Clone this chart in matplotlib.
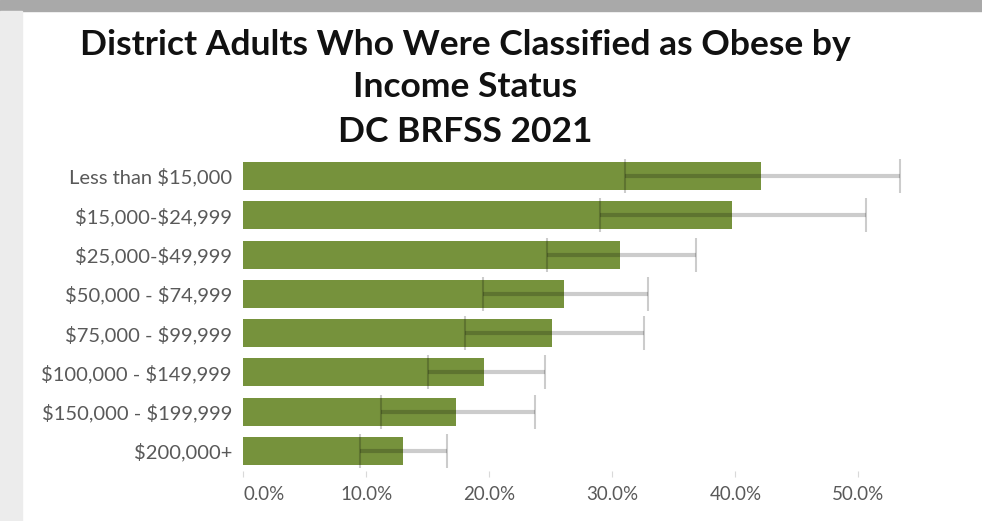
import matplotlib.pyplot as plt
from matplotlib.patches import Rectangle

# Data (percent)
categories = ['Less than $15,000', '$15,000-$24,999', '$25,000-$49,999',
              '$50,000 - $74,999', '$75,000 - $99,999', '$100,000 - $149,999',
              '$150,000 - $199,999', '$200,000+']
pct = [42.1, 39.7, 30.6, 26.1, 25.1, 19.6, 17.3, 13.0]
ci_low = [31.0, 29.0, 24.7, 19.5, 18.0, 15.0, 11.2, 9.5]
ci_high = [53.4, 50.6, 36.8, 32.9, 32.6, 24.5, 23.7, 16.6]
x_ticks = [0, 10, 20, 30, 40, 50]

plt.rcParams['font.family'] = ['Lato', 'DejaVu Sans']
plt.rcParams['text.parse_math'] = False  # labels contain "$"

fig = plt.figure(figsize=(9.82, 5.21), dpi=100)

# frame of the screenshot
fig.patches.append(Rectangle((0, 1 - 11 / 521), 1, 11 / 521, transform=fig.transFigure,
                             color='#a9a9a9', zorder=0))
fig.patches.append(Rectangle((0, 0), 22 / 982, 1 - 11 / 521, transform=fig.transFigure,
                             color='#ececec', zorder=0))

ax = fig.add_axes([243 / 982, 1 - 470.6 / 521, (920 - 243) / 982, (470.6 - 156.4) / 521])

y = range(len(categories))
ax.barh(y, pct, height=0.71, color='#76923c', zorder=2)
err_lo = [p - l for p, l in zip(pct, ci_low)]
err_hi = [h - p for p, h in zip(pct, ci_high)]
ax.errorbar(pct, y, xerr=[err_lo, err_hi], fmt='none', ecolor='black', alpha=0.2,
            elinewidth=3, capsize=12.5, capthick=1.5, zorder=3)

ax.set_ylim(len(categories) - 0.5, -0.5)
ax.set_xlim(0, 55)
ax.set_yticks(list(y))
ax.set_yticklabels(categories, fontsize=14.5, color='#595959')
ax.set_xticks(x_ticks)
ax.set_xticklabels([f'{v:.1f}%' for v in x_ticks], fontsize=13.5, color='#595959')
ax.get_xticklabels()[0].set_ha('left')
ax.tick_params(axis='y', length=0, pad=8)
ax.tick_params(axis='x', length=4, color='#d9d9d9', pad=7)
for s in ax.spines.values():
    s.set_visible(False)

title_lines = ['District Adults Who Were Classified as Obese by', 'Income Status', 'DC BRFSS 2021']
for line, yp in zip(title_lines, [55, 97, 142]):
    fig.text(465 / 982, 1 - yp / 521, line, ha='center', va='baseline',
             fontsize=25.5, fontweight='bold', color='#111111')

fig.savefig('out.png', dpi=100)
